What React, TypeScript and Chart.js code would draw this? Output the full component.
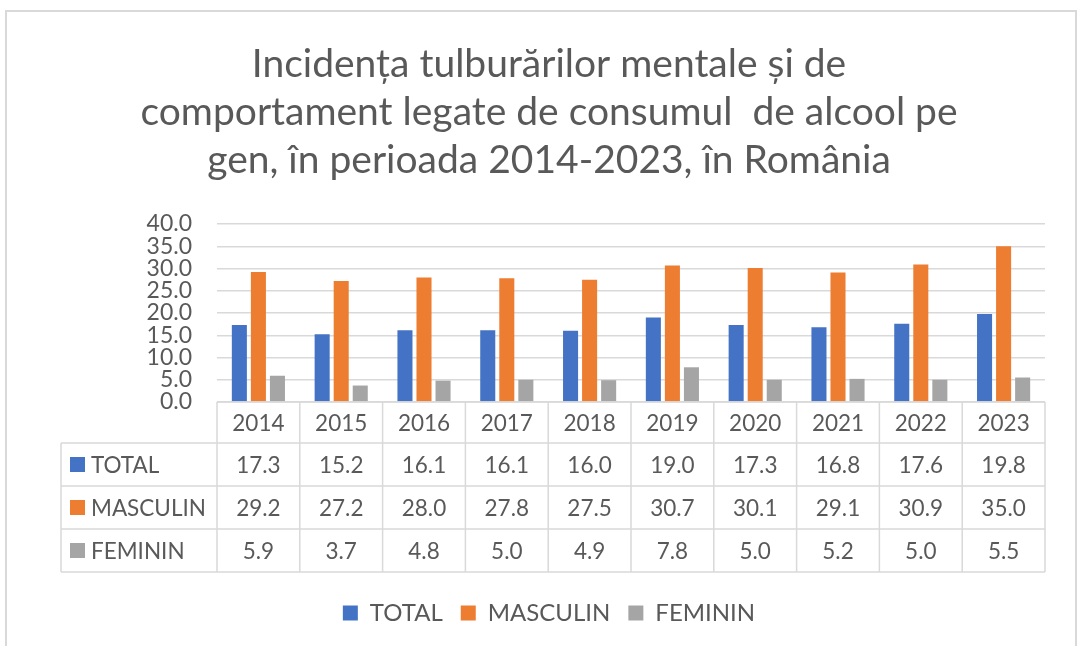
import { useEffect, useRef } from "react";
import { Chart, registerables } from "chart.js";

Chart.register(...registerables);

const years = ["2014", "2015", "2016", "2017", "2018", "2019", "2020", "2021", "2022", "2023"];
const seriesNames = ["TOTAL", "MASCULIN", "FEMININ"];
const totalValues = [17.3, 15.2, 16.1, 16.1, 16.0, 19.0, 17.3, 16.8, 17.6, 19.8];
const masculinValues = [29.2, 27.2, 28.0, 27.8, 27.5, 30.7, 30.1, 29.1, 30.9, 35.0];
const femininValues = [5.9, 3.7, 4.8, 5.0, 4.9, 7.8, 5.0, 5.2, 5.0, 5.5];
const seriesColors = ["#4472C4", "#ED7D31", "#A5A5A5"];
const yMin = 0;
const yMax = 40;
const yStep = 5;
const titleLines = [
  "Incidența tulburărilor mentale și de",
  "comportament legate de consumul  de alcool pe",
  "gen, în perioada 2014-2023, în România",
];

const FONT = "Lato, 'Open Sans', sans-serif";
const TEXT = "#595959";
const GRID = "#d9d9d9";

const W = 1083;
const H = 646;
const HEADER_H = 41;
const ROW_H = 43;
const TABLE_LEFT = 61;
const PAD_LEFT = 53;
const LEGEND_PAD = 18;
const LEGEND_FONT = 24;
const LEGEND_CENTER = 613;
const LEGEND_TOP = LEGEND_CENTER - LEGEND_PAD - LEGEND_FONT / 2;
const LEGEND_H = LEGEND_FONT + LEGEND_PAD + 10;
const PLOT_BOTTOM = 402;
const PLOT_LEFT = 217;
const PLOT_RIGHT = 1045;
const TABLE_FONT = 22.5;

const tablePlugin = {
  id: "dataTable",
  afterDraw(chart: any) {
    const { ctx, chartArea, scales } = chart;
    const x = scales.x;
    const n = years.length;
    const left = chartArea.left;
    const right = chartArea.right;
    const colW = (right - left) / n;
    const top = chartArea.bottom;
    const rowsTop = top + HEADER_H;
    const bottom = rowsTop + ROW_H * seriesNames.length;
    const allValues = [totalValues, masculinValues, femininValues];

    ctx.save();
    ctx.strokeStyle = GRID;
    ctx.lineWidth = 1.5;
    ctx.beginPath();
    for (let k = 0; k <= n; k++) {
      const xx = left + k * colW;
      ctx.moveTo(xx, top);
      ctx.lineTo(xx, bottom);
    }
    ctx.moveTo(left, top);
    ctx.lineTo(right, top);
    for (let r = 0; r <= seriesNames.length; r++) {
      const yy = rowsTop + r * ROW_H;
      ctx.moveTo(TABLE_LEFT, yy);
      ctx.lineTo(right, yy);
    }
    ctx.moveTo(TABLE_LEFT, rowsTop);
    ctx.lineTo(TABLE_LEFT, bottom);
    ctx.stroke();

    ctx.fillStyle = TEXT;
    ctx.font = `${TABLE_FONT}px ${FONT}`;
    ctx.textAlign = "center";
    ctx.textBaseline = "middle";
    years.forEach((yr, i) => {
      ctx.fillText(yr, x.getPixelForValue(i), top + HEADER_H / 2 + 1);
    });
    seriesNames.forEach((name, r) => {
      const cy = rowsTop + r * ROW_H + ROW_H / 2;
      ctx.fillStyle = seriesColors[r];
      ctx.fillRect(70, cy - 7.5, 15, 15);
      ctx.fillStyle = TEXT;
      ctx.textAlign = "left";
      ctx.fillText(name, 91, cy + 1);
      ctx.textAlign = "center";
      allValues[r].forEach((v, i) => {
        ctx.fillText(v.toFixed(1), x.getPixelForValue(i), cy + 1);
      });
    });
    ctx.restore();
  },
};

export default function App() {
  const canvasRef = useRef<HTMLCanvasElement | null>(null);

  useEffect(() => {
    const canvas = canvasRef.current;
    if (!canvas) return;
    const dataSets = [totalValues, masculinValues, femininValues];
    const chart = new Chart(canvas, {
      type: "bar",
      data: {
        labels: years,
        datasets: seriesNames.map((name, i) => ({
          label: name,
          data: dataSets[i],
          backgroundColor: seriesColors[i],
          borderWidth: 0,
          categoryPercentage: 0.69,
          barPercentage: 0.79,
        })),
      },
      options: {
        animation: false,
        responsive: false,
        maintainAspectRatio: false,
        layout: {
          padding: { left: PAD_LEFT, right: W - PLOT_RIGHT, top: 0, bottom: H - LEGEND_TOP - LEGEND_H },
        },
        plugins: {
          title: {
            display: true,
            text: titleLines,
            color: TEXT,
            font: { family: FONT, size: 39, weight: "normal", lineHeight: "48px" },
            padding: { top: 40, bottom: 40 },
          },
          legend: {
            display: true,
            position: "bottom",
            labels: {
              color: TEXT,
              boxWidth: 15,
              boxHeight: 15,
              padding: LEGEND_PAD,
              font: { family: FONT, size: LEGEND_FONT },
            },
          },
          tooltip: { enabled: false },
        },
        scales: {
          x: {
            display: true,
            grid: { display: false, drawTicks: false },
            border: { display: false },
            ticks: { display: false },
            afterFit(scale: any) {
              scale.height = LEGEND_TOP - PLOT_BOTTOM;
            },
          },
          y: {
            min: yMin,
            max: yMax,
            grid: { color: GRID, lineWidth: 1.5, drawTicks: false },
            border: { display: false },
            ticks: {
              stepSize: yStep,
              autoSkip: false,
              padding: 25,
              color: TEXT,
              font: { family: FONT, size: 23, lineHeight: 1 },
              callback: (v: any) => Number(v).toFixed(1),
            },
            afterFit(scale: any) {
              scale.width = PLOT_LEFT - PAD_LEFT;
            },
          },
        },
      },
      plugins: [tablePlugin],
    });
    return () => chart.destroy();
  }, []);

  return (
    <div style={{ position: "absolute", left: 0, top: 0, width: W, height: H, background: "#fff", overflow: "hidden" }}>
      <div
        style={{
          position: "absolute",
          left: 5,
          top: 10,
          width: 1072,
          height: 660,
          border: `2px solid ${GRID}`,
          boxSizing: "border-box",
        }}
      />
      <canvas ref={canvasRef} width={W} height={H} style={{ position: "absolute", left: 0, top: 0 }} />
    </div>
  );
}
